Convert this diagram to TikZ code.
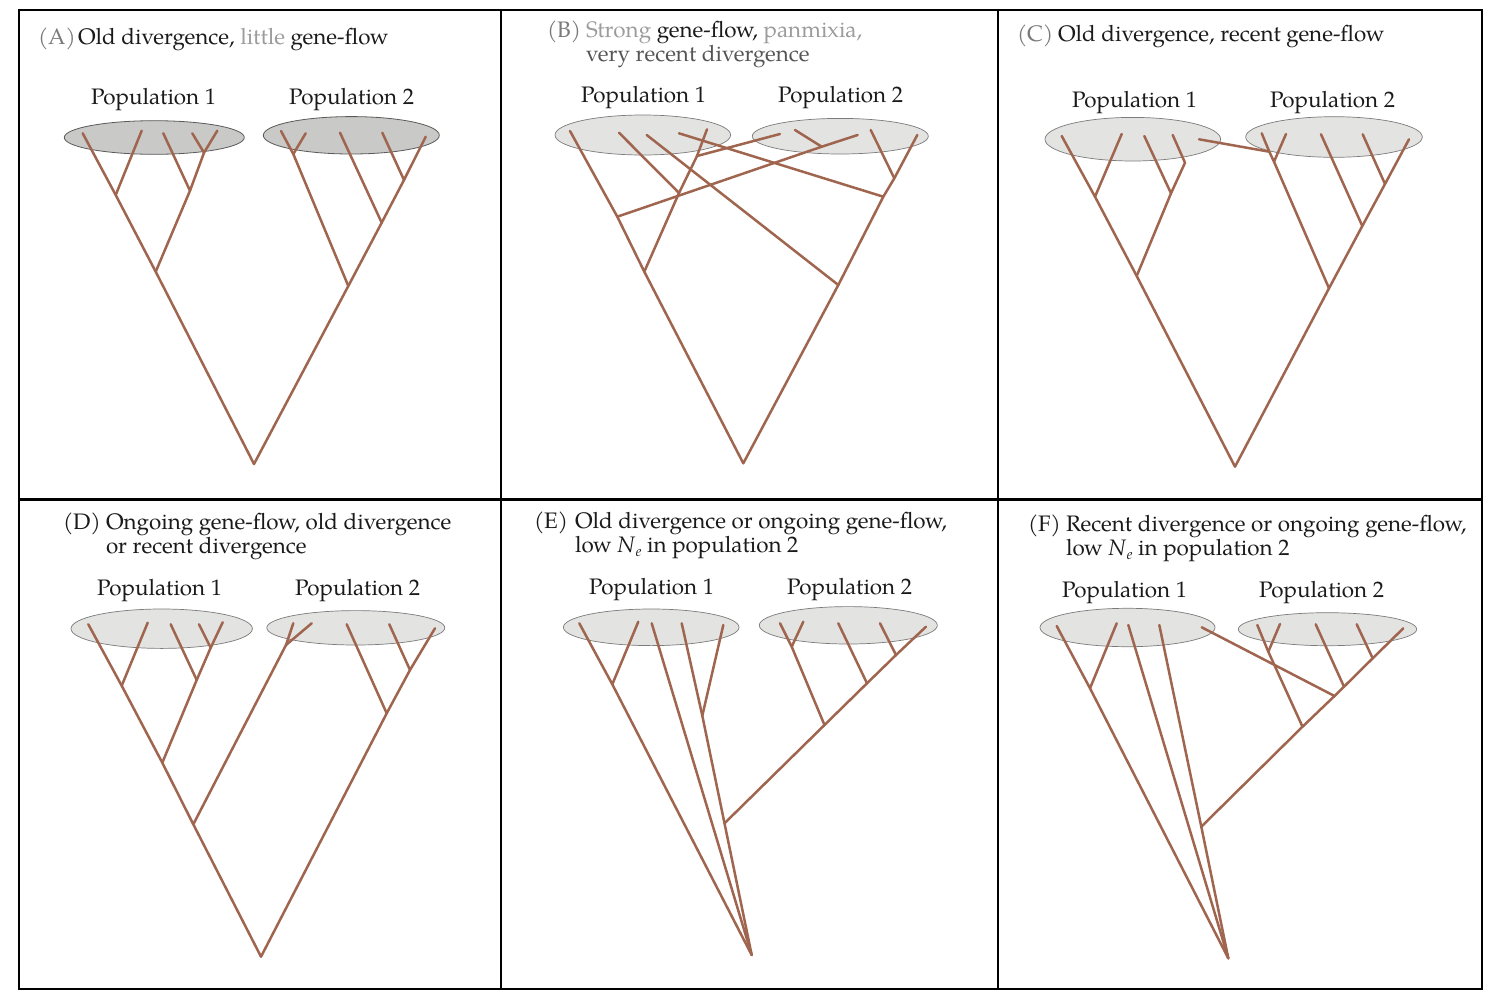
\documentclass[tikz,border=0pt]{standalone}
\usepackage{fontspec}
\setmainfont{TeX Gyre Pagella}
\definecolor{brc}{HTML}{A0654F}
\definecolor{ellA}{HTML}{C9C9C7}
\definecolor{ellB}{HTML}{E3E3E1}
\definecolor{ellE}{HTML}{5A5A5A}
\definecolor{labg}{HTML}{7A7A7A}
\definecolor{blurg}{HTML}{9C9C9C}
\definecolor{midg}{HTML}{555555}
\definecolor{txt}{HTML}{1A1A1A}
\newcommand{\Ne}{\textit{N}\kern0.5pt\raisebox{-0.45ex}{\fontsize{14.5}{14.5}\selectfont\textit{e}}}
\begin{document}
\begin{tikzpicture}[x=1pt,y=-1pt,
  br/.style={draw=brc,line width=2.5pt,line cap=round,line join=round},
  ellD/.style={fill=ellA,draw=ellE,line width=0.8pt},
  ellL/.style={fill=ellB,draw=ellE!80,line width=0.7pt},
  frame/.style={draw=black,line width=2.4pt},
  every node/.style={inner sep=0pt,outer sep=0pt,anchor=base west,text=txt,font=\fontsize{22.4}{26}\selectfont}]
\useasboundingbox[fill=white] (0,0) rectangle (1500,1004);
% ---------- frame ----------
\draw[frame] (19,10) rectangle (1482,989);
\draw[frame] (19,499.5) -- (1482,499.5);
\draw[frame] (501,10) -- (501,989);
\draw[frame] (998,10) -- (998,989);
% ---------- ellipses ----------
\path[ellD] (154.3,137.5) ellipse [x radius=90, y radius=16.8];
\path[ellD] (351.3,135.3) ellipse [x radius=88, y radius=18.7];
\path[ellL] (642.8,135) ellipse [x radius=87.8, y radius=20];
\path[ellL] (840.3,136.2) ellipse [x radius=88, y radius=17.8];
\path[ellL] (1132.8,139.2) ellipse [x radius=87.8, y radius=21.8];
\path[ellL] (1334,137) ellipse [x radius=88.3, y radius=20.3];
\path[ellL] (161.7,628.7) ellipse [x radius=90.7, y radius=19.7];
\path[ellL] (355.8,627.8) ellipse [x radius=89, y radius=17.2];
\path[ellL] (651.2,627.3) ellipse [x radius=87.8, y radius=18.3];
\path[ellL] (848.3,625.3) ellipse [x radius=89, y radius=18.7];
\path[ellL] (1127.5,627.5) ellipse [x radius=87.5, y radius=19.2];
\path[ellL] (1327.5,629.2) ellipse [x radius=89.2, y radius=16.5];
% ---------- titles ----------
\node[text=labg] (tA) at (38,44) {(A)};
\node (tAx) at (78,44) {Old divergence, {\color{blurg}little} gene-flow};
\node[text=labg] (tB) at (547,37) {(B)};
\node (tBx) at (586,37) {{\color{blurg}Strong} gene-flow, {\color{blurg}panmixia,}};
\node[text=midg] (tBy) at (586,61) {very recent divergence};
\node[text=labg] (tC) at (1017,41) {(C)};
\node (tCx) at (1058,41) {Old divergence, recent gene-flow};
\node (tD) at (63,529) {(D)};
\node (tDx) at (106,529) {Ongoing gene-flow, old divergence};
\node (tDy) at (106,553) {or recent divergence};
\node (tE) at (534,528) {(E)};
\node (tEx) at (575,528) {Old divergence or ongoing gene-flow,};
\node (tEy) at (575,552) {low \Ne{} in population 2};
\node (tF) at (1028,531) {(F)};
\node (tFx) at (1066,531) {Recent divergence or ongoing gene-flow,};
\node (tFy) at (1066,555) {low \Ne{} in population 2};
% ---------- population labels ----------
\node (pA1) at (91,104) {Population 1};
\node (pA2) at (289,104) {Population 2};
\node (pB1) at (581,102) {Population 1};
\node (pB2) at (778,102) {Population 2};
\node (pC1) at (1072,107) {Population 1};
\node (pC2) at (1270,107) {Population 2};
\node (pD1) at (97,595) {Population 1};
\node (pD2) at (295,595) {Population 2};
\node (pE1) at (589,594) {Population 1};
\node (pE2) at (787,594) {Population 2};
\node (pF1) at (1062,597) {Population 1};
\node (pF2) at (1259,597) {Population 2};
% ---------- tree A ----------
\coordinate (Aroot) at (254,464);
\coordinate (A1t1) at (82.7,133.3);
\coordinate (A1t2) at (141.7,130.7);
\coordinate (A1t3) at (163.3,133.3);
\coordinate (A1t4) at (192.3,133.3);
\coordinate (A1t5) at (217.3,130.7);
\coordinate (A1n12) at (115.7,195);
\coordinate (A1n45) at (204,152.7);
\coordinate (A1n345) at (190,190.7);
\coordinate (A1n) at (155.7,271.7);
\coordinate (A2t1) at (281,131);
\coordinate (A2t2) at (305.7,133.3);
\coordinate (A2t3) at (340,132.7);
\coordinate (A2t4) at (382.3,132.7);
\coordinate (A2t5) at (425.7,136.7);
\coordinate (A2n12) at (293.3,154);
\coordinate (A2n45) at (404,180);
\coordinate (A2n345) at (381.7,222.7);
\coordinate (A2n) at (348.3,286);
\draw[br] (A1t1) -- (A1n12) -- (A1n) -- (Aroot) -- (A2n) -- (A2n345) -- (A2n45) -- (A2t5);
\draw[br] (A1t2) -- (A1n12);
\draw[br] (A1n) -- (A1n345) -- (A1n45) -- (A1t5);
\draw[br] (A1t3) -- (A1n345);
\draw[br] (A1t4) -- (A1n45);
\draw[br] (A2t1) -- (A2n12) -- (A2n);
\draw[br] (A2t2) -- (A2n12);
\draw[br] (A2t3) -- (A2n345);
\draw[br] (A2t4) -- (A2n45);
% ---------- tree B ----------
\coordinate (Broot) at (743.3,463.3);
\coordinate (Ba) at (644.3,271.7);
\coordinate (Bb) at (617.3,216.7);
\coordinate (BtL1) at (570,131);
\coordinate (Bc) at (679,193);
\coordinate (BtL2) at (619,132.7);
\coordinate (Bd) at (697,156);
\coordinate (BtL4) at (707,129.3);
\coordinate (Bt2a) at (780,134);
\coordinate (Be) at (821.7,146.7);
\coordinate (Bt2b) at (857.7,135);
\coordinate (Bt2c) at (795,130);
\coordinate (Bf) at (838.3,285);
\coordinate (Bg) at (883.3,196.7);
\coordinate (Bh) at (894.3,178.3);
\coordinate (Bt2e) at (917.3,135);
\coordinate (BtL3) at (646.7,135);
\coordinate (BtL5) at (679,133.3);
\coordinate (Bt2d) at (870.7,130);
\draw[br] (BtL1) -- (Bb) -- (Ba) -- (Broot) -- (Bf) -- (Bg) -- (Bh) -- (Bt2e);
\draw[br] (Ba) -- (Bc) -- (Bd) -- (BtL4);
\draw[br] (BtL2) -- (Bc);
\draw[br] (Bd) -- (Bt2a);
\draw[br] (Bb) -- (Be) -- (Bt2b);
\draw[br] (Bt2c) -- (Be);
\draw[br] (Bf) -- (BtL3);
\draw[br] (Bg) -- (BtL5);
\draw[br] (Bh) -- (Bt2d);
% ---------- tree C ----------
\coordinate (Croot) at (1235,466.7);
\coordinate (Ct1) at (1061.7,136);
\coordinate (Ct2) at (1121.7,134);
\coordinate (Ct3) at (1144.3,136);
\coordinate (Ct4) at (1172.7,135);
\coordinate (Cgt) at (1199,139.3);
\coordinate (Cj1) at (1095,196.7);
\coordinate (Cb) at (1185,162.7);
\coordinate (Cj3) at (1171,193.3);
\coordinate (Cj) at (1136.7,276);
\coordinate (Cu1) at (1261.7,133.3);
\coordinate (Cu2) at (1286,134);
\coordinate (Cu3) at (1321,134.3);
\coordinate (Cu4) at (1362.7,134.3);
\coordinate (Cu5) at (1409,139.3);
\coordinate (Ck1) at (1274,161.7);
\coordinate (Cg) at (1269.3,151.7);
\coordinate (Ck4) at (1385,184);
\coordinate (Ck3) at (1362.3,226);
\coordinate (Ck2) at (1329,288.3);
\draw[br] (Ct1) -- (Cj1) -- (Cj) -- (Croot) -- (Ck2) -- (Ck3) -- (Ck4) -- (Cu5);
\draw[br] (Ct2) -- (Cj1);
\draw[br] (Cj) -- (Cj3) -- (Cb) -- (Ct4);
\draw[br] (Ct3) -- (Cj3);
\draw[br] (Cu1) -- (Cg) -- (Ck1) -- (Ck2);
\draw[br] (Cu2) -- (Ck1);
\draw[br] (Cu3) -- (Ck3);
\draw[br] (Cu4) -- (Ck4);
\draw[br] (Cgt) -- (Cg);
% ---------- tree D ----------
\coordinate (Droot) at (261,956.7);
\coordinate (Dn1) at (193.3,824.3);
\coordinate (Dn2) at (162.3,762.7);
\coordinate (Dn3) at (121.7,685.7);
\coordinate (Dt1) at (88.3,624.3);
\coordinate (Dt2) at (147.7,622.7);
\coordinate (Dt3) at (170.7,624.3);
\coordinate (Dn4) at (196.7,680);
\coordinate (Dn5) at (210.7,647.7);
\coordinate (Dt4) at (199,624.3);
\coordinate (Dt5) at (222.7,622.3);
\coordinate (Dm) at (286,645);
\coordinate (Dt6) at (293.3,623.3);
\coordinate (Dt7) at (311.7,623.3);
\coordinate (Dr1) at (386.7,713.3);
\coordinate (Dr2) at (410,670);
\coordinate (Dt10) at (435,628.3);
\coordinate (Dt8) at (346.7,624.3);
\coordinate (Dt9) at (389.3,624.3);
\draw[br] (Dt1) -- (Dn3) -- (Dn2) -- (Dn1) -- (Droot) -- (Dr1) -- (Dr2) -- (Dt10);
\draw[br] (Dt2) -- (Dn3);
\draw[br] (Dn2) -- (Dn4) -- (Dn5) -- (Dt5);
\draw[br] (Dt3) -- (Dn4);
\draw[br] (Dt4) -- (Dn5);
\draw[br] (Dn1) -- (Dm) -- (Dt6);
\draw[br] (Dm) -- (Dt7);
\draw[br] (Dt8) -- (Dr1);
\draw[br] (Dt9) -- (Dr2);
% ---------- tree E ----------
\coordinate (Eroot) at (751.7,955);
\coordinate (Et1) at (579.3,623.3);
\coordinate (Et2) at (638.3,621.7);
\coordinate (Ej1) at (612.3,684.3);
\coordinate (Et3) at (651.7,623.3);
\coordinate (Et4) at (681.7,623.3);
\coordinate (Et5) at (723.3,625);
\coordinate (Ej2) at (702.3,715.7);
\coordinate (Ea) at (724.5,823.3);
\coordinate (Eu1) at (780,623.3);
\coordinate (Eu2) at (803.3,621.7);
\coordinate (Ek1) at (791.7,646.7);
\coordinate (Ek2) at (824.5,725);
\coordinate (Ek3) at (867,683.3);
\coordinate (Ek4) at (896,655);
\coordinate (Eu5) at (926,626.7);
\coordinate (Eu3) at (838.3,623.3);
\coordinate (Eu4) at (880,623.3);
\draw[br] (Et1) -- (Ej1) -- (Eroot);
\draw[br] (Et2) -- (Ej1);
\draw[br] (Et3) -- (Eroot);
\draw[br] (Et4) -- (Ej2) -- (Ea) -- (Eroot);
\draw[br] (Et5) -- (Ej2);
\draw[br] (Ea) -- (Ek2) -- (Ek3) -- (Ek4) -- (Eu5);
\draw[br] (Eu1) -- (Ek1) -- (Ek2);
\draw[br] (Eu2) -- (Ek1);
\draw[br] (Eu3) -- (Ek3);
\draw[br] (Eu4) -- (Ek4);
% ---------- tree F ----------
\coordinate (Froot) at (1228.3,958.3);
\coordinate (Ft1) at (1056.7,626);
\coordinate (Ft2) at (1116.7,623.3);
\coordinate (Fj1) at (1090,688.3);
\coordinate (Ft3) at (1128.3,625);
\coordinate (Ft4) at (1159.3,625);
\coordinate (Fa) at (1201.3,826.7);
\coordinate (Fgt) at (1201.7,627.3);
\coordinate (Fg) at (1334.5,696);
\coordinate (Fu1) at (1257.3,625);
\coordinate (Fu2) at (1280,624);
\coordinate (Fu3) at (1315.7,624.3);
\coordinate (Fu4) at (1356.7,624.3);
\coordinate (Fu5) at (1403.3,628.3);
\coordinate (Fk1) at (1268.3,651.7);
\coordinate (Fk2) at (1302.5,726.7);
\coordinate (Fk3) at (1344,686.7);
\coordinate (Fk4) at (1372.7,658.3);
\draw[br] (Ft1) -- (Fj1) -- (Froot);
\draw[br] (Ft2) -- (Fj1);
\draw[br] (Ft3) -- (Froot);
\draw[br] (Ft4) -- (Fa) -- (Froot);
\draw[br] (Fa) -- (Fk2) -- (Fg) -- (Fk3) -- (Fk4) -- (Fu5);
\draw[br] (Fu1) -- (Fk1) -- (Fk2);
\draw[br] (Fu2) -- (Fk1);
\draw[br] (Fu3) -- (Fk3);
\draw[br] (Fu4) -- (Fk4);
\draw[br] (Fgt) -- (Fg);
\end{tikzpicture}
\end{document}
